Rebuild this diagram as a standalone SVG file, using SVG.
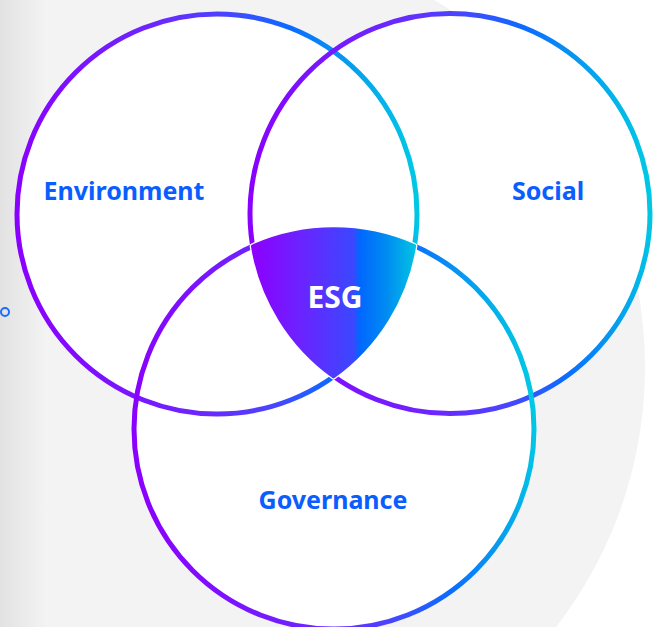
<svg xmlns="http://www.w3.org/2000/svg" width="662" height="627" viewBox="0 0 662 627">
  <defs>
    <!-- ring stroke: violet on the left, blue, then cyan on the right -->
    <linearGradient id="ring" x1="0" y1="0.56" x2="1" y2="0.44">
      <stop offset="0" stop-color="#8a00ff"/>
      <stop offset="0.42" stop-color="#6a28ff"/>
      <stop offset="0.58" stop-color="#4a44ff"/>
      <stop offset="0.74" stop-color="#0a6cff"/>
      <stop offset="0.86" stop-color="#0698f0"/>
      <stop offset="1" stop-color="#00c8e4"/>
    </linearGradient>
    <linearGradient id="core" gradientUnits="userSpaceOnUse" x1="253" y1="0" x2="416" y2="0">
      <stop offset="0" stop-color="#8c00ff"/>
      <stop offset="0.3" stop-color="#6a24ff"/>
      <stop offset="0.62" stop-color="#3a48ff"/>
      <stop offset="0.65" stop-color="#0066ff"/>
      <stop offset="0.82" stop-color="#008cf2"/>
      <stop offset="1" stop-color="#00c4e2"/>
    </linearGradient>
    <linearGradient id="edge" x1="0" y1="0" x2="1" y2="0">
      <stop offset="0" stop-color="#e2e2e2"/>
      <stop offset="1" stop-color="#f3f3f3"/>
    </linearGradient>
    <style>
      .disc { fill: #ffffff; }
      .ring { fill: none; stroke: url(#ring); stroke-width: 5; }
      .label { font-family: "Noto Sans", "Liberation Sans", sans-serif; font-weight: 700; font-size: 25px; fill: #0a5eff; text-anchor: middle; }
      .core-label { font-family: "Noto Sans", "Liberation Sans", sans-serif; font-weight: 700; font-size: 30px; fill: #ffffff; text-anchor: middle; }
    </style>
  </defs>

  <!-- backdrop -->
  <rect width="662" height="627" fill="#ffffff"/>
  <circle cx="220" cy="367" r="425" fill="#f3f3f3"/>
  <rect x="0" y="0" width="46" height="627" fill="url(#edge)"/>
  <circle cx="5" cy="312" r="4" fill="none" stroke="#1a6cff" stroke-width="2"/>

  <!-- white discs under all rings -->
  <circle class="disc" cx="217" cy="214" r="200"/>
  <circle class="disc" cx="450" cy="213.5" r="200"/>
  <circle class="disc" cx="334" cy="429" r="200"/>

  <g id="node-environment">
    <circle class="ring" cx="217" cy="214" r="200"/>
    <text class="label" x="124" y="200">Environment</text>
  </g>
  <g id="node-social">
    <circle class="ring" cx="450" cy="213.5" r="200"/>
    <text class="label" x="548" y="200">Social</text>
  </g>
  <g id="node-governance">
    <circle class="ring" cx="334" cy="429" r="200"/>
    <text class="label" x="333" y="509">Governance</text>
  </g>

  <!-- shared centre of the three sets -->
  <g id="node-esg">
    <path d="M252.7 246.25 A200 200 0 0 1 414.4 245.9 A200 200 0 0 1 333.5 376.6 A200 200 0 0 1 252.7 246.25 Z" fill="none" stroke="#ffffff" stroke-width="6" stroke-linejoin="round"/>
    <path d="M252.7 246.25 A200 200 0 0 1 414.4 245.9 A200 200 0 0 1 333.5 376.6 A200 200 0 0 1 252.7 246.25 Z" fill="url(#core)" stroke="url(#core)" stroke-width="3.5" stroke-linejoin="round"/>
    <text class="core-label" x="335" y="308">ESG</text>
  </g>
</svg>
